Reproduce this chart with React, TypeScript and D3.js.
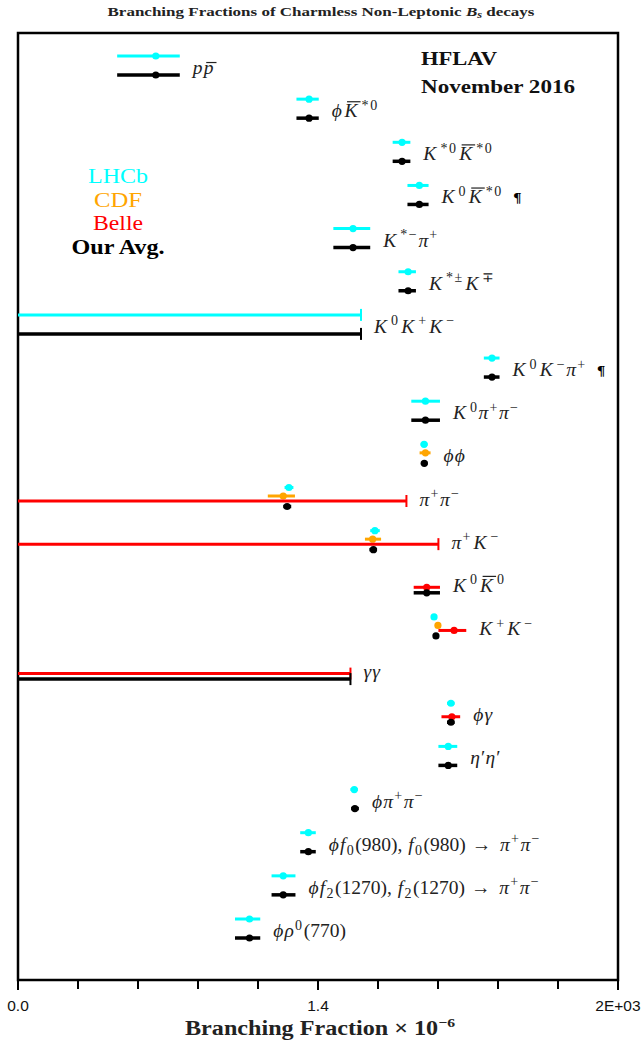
import React, { useLayoutEffect, useRef, useState } from "react";
import * as d3 from "d3";

// ---------- data (branching fractions x 10^-6) ----------
const decays: string[] = [
  "p\\bar{p}",
  "ϕ\\bar{K}^{*0}",
  "K^{*0}\\bar{K}^{*0}",
  "K^0\\bar{K}^{*0}¶",
  "K^{*−}π^+",
  "K^{*±}K^∓",
  "K^0K^+K^−",
  "K^0K^−π^+¶",
  "K^0π^+π^−",
  "ϕϕ",
  "π^+π^−",
  "π^+K^−",
  "K^0\\bar{K}^0",
  "K^+K^−",
  "γγ",
  "ϕγ",
  "η′η′",
  "ϕπ^+π^−",
  "ϕf_0(980), f_0(980) → π^+π^−",
  "ϕf_2(1270), f_2(1270) → π^+π^−",
  "ϕρ^0(770)",
];

type M = [number, number, number] | number | null; // [value, low, high] or upper limit

const lhcb: M[] = [
  [0.028, 0.011, 0.05], [1.14, 0.84, 1.44], [10.8, 8.6, 13.2], [16.4, 12.3, 20.5],
  [3.3, 2.05, 5.0], [12.5, 9.9, 15.1], 4.0, [95, 78, 114], [19, 13.5, 27],
  [18.4, 16.9, 20.0], [0.7, 0.63, 0.78], [5.6, 5.0, 6.3], null, [23.4, 21.8, 25.0],
  null, [35.2, 32.0, 38.5], [33, 26, 41], [3.4, 3.1, 3.7], [1.12, 0.92, 1.34],
  [0.61, 0.46, 0.82], [0.27, 0.19, 0.35],
];
const cdf: M[] = [
  null, null, null, null, null, null, null, null, null,
  [19.0, 16.5, 21.5], [0.61, 0.42, 0.81], [5.3, 4.4, 6.5], null, [25.7, 24.0, 27.5],
  null, null, null, null, null, null, null,
];
const belle: M[] = [
  null, null, null, null, null, null, null, null, null, null,
  12, 26, [19.6, 14.3, 27], [38, 26, 51], 3.1, [36, 28, 44],
  null, null, null, null, null,
];
const average: M[] = [
  [0.028, 0.011, 0.05], [1.14, 0.84, 1.44], [10.8, 8.6, 13.2], [16.4, 12.3, 20.5],
  [3.3, 2.05, 5.0], [12.5, 9.9, 15.1], 4.0, [95, 78, 114], [19, 13.5, 27],
  [18.5, 17.0, 20.0], [0.67, 0.61, 0.74], [5.4, 4.9, 5.9], [19.6, 14.3, 27], [24.5, 23.0, 26.1],
  3.1, [35.2, 32.0, 38.5], [33, 26, 41], [3.45, 3.15, 3.8], [1.12, 0.92, 1.34],
  [0.61, 0.46, 0.82], [0.27, 0.19, 0.35],
];

const experiments = ["LHCb", "CDF", "Belle", "Our Avg."];
const expColors = ["#00ffff", "#ffa500", "#ff0000", "#000000"];
const expData = [lhcb, cdf, belle, average];
const expOffset = [-9.5, -1, 4, 9.5];
const legendWidths = [60, 48, 50, 93];

const xDomain: [number, number] = [0.001, 2000];
const tickCount = 10;
const tickLabels = ["0.0", "1.4", "2E+03"];

// ---------- layout ----------
const W = 642, H = 1044;
const left = 18, right = 618, top = 33, bottom = 980;
const SERIF = "'Liberation Serif', 'Times New Roman', serif";
const SANS = "'Liberation Sans', Arial, sans-serif";
const LABEL_SIZE = 19.5;

type Ch = { c: string; it: boolean; pos: number; bar?: boolean; pil?: boolean };
function parseTex(s: string): Ch[] {
  const out: Ch[] = [];
  const isIt = (c: string) => /[A-Za-z\u0370-\u03FF]/.test(c);
  const push = (t: string, pos: number, bar = false) => {
    for (const c of t) out.push({ c, it: isIt(c), pos, bar });
  };
  let i = 0;
  while (i < s.length) {
    if (s.startsWith("\\bar{", i)) {
      const j = s.indexOf("}", i);
      push(s.slice(i + 5, j), 0, true);
      i = j + 1;
    } else if (s[i] === "^" || s[i] === "_") {
      const pos = s[i] === "^" ? 1 : -1;
      let t: string;
      if (s[i + 1] === "{") {
        const j = s.indexOf("}", i);
        t = s.slice(i + 2, j);
        i = j + 1;
      } else {
        t = s[i + 1];
        i += 2;
      }
      push(t, pos);
    } else if (s[i] === "¶") {
      out.push({ c: "¶", it: false, pos: 0, pil: true });
      i++;
    } else {
      push(s[i], 0);
      i++;
    }
  }
  return out;
}

function spacing(g: Ch): number {
  if (g.pos !== 0) return 1.6;
  if (g.it) return g.c === "K" ? 4 : 1.2;
  if (g.c === "→") return 3;
  if (g.c === " ") return 1;
  return 0;
}

function Tex({ x, y, s, size }: { x: number; y: number; s: string; size: number }) {
  const chars = parseTex(s);
  let cur = 0;
  return (
    <text x={x} y={y} fontFamily={SERIF} fontSize={size} style={{ whiteSpace: "pre" }} fill="#222">
      {chars.map((g, k) => {
        const target = g.pos === 1 ? -size * 0.38 : g.pos === -1 ? size * 0.22 : 0;
        const dy = target - cur;
        cur = target;
        const ls = spacing(g);
        const lower = g.c === g.c.toLowerCase();
        return (
          <tspan
            key={k}
            dy={dy}
            dx={g.pil ? 10 : g.c === "K" && k > 0 ? 1.5 : 0}
            fontStyle={g.it ? "italic" : "normal"}
            fontFamily={g.pil ? "'DejaVu Serif', serif" : undefined}
            fontWeight={g.pil ? "bold" : undefined}
            fill={g.pil ? "#000" : undefined}
            fontSize={g.pos !== 0 ? size * 0.72 : g.pil ? size * 0.7 : size}
            letterSpacing={ls}
            data-bar={g.bar ? "1" : undefined}
            data-ls={ls}
            data-cap={lower ? size * 0.46 : size * 0.662}
          >
            {g.pil ? "\u00B6\uFE0E" : g.c}
          </tspan>
        );
      })}
    </text>
  );
}

export default function App() {
  const svgRef = useRef<SVGSVGElement>(null);
  const [bars, setBars] = useState<{ x1: number; x2: number; y: number }[]>([]);

  const x = d3.scaleLog().domain(xDomain).range([left, right]);
  const y = d3.scalePoint<string>().domain(decays).range([65.5, 928.5]);
  const lx = Math.log10(xDomain[0]);
  const span = Math.log10(xDomain[1]) - lx;
  const ticks = d3.range(tickCount + 1).map((i) => Math.pow(10, lx + (i * span) / tickCount));

  const rowMax = decays.map((_, r) => {
    let m = 0;
    expData.forEach((arr) => {
      const d = arr[r];
      if (d == null) return;
      const hi = typeof d === "number" ? d : d[2];
      m = Math.max(m, hi);
    });
    return m;
  });

  useLayoutEffect(() => {
    const svg = svgRef.current;
    if (!svg) return;
    const out: { x1: number; x2: number; y: number }[] = [];
    svg.querySelectorAll("tspan[data-bar]").forEach((el) => {
      const t = el as unknown as SVGTextContentElement;
      const p = t.getStartPositionOfChar(0);
      const w = t.getComputedTextLength();
      const ls = parseFloat(el.getAttribute("data-ls") || "0");
      const cap = parseFloat(el.getAttribute("data-cap") || "13");
      out.push({ x1: p.x + 2.5, x2: p.x + w - ls + 3, y: p.y - cap - 2.5 });
    });
    setBars(out);
  }, []);

  return (
    <svg ref={svgRef} width={W} height={H} style={{ position: "absolute", left: 0, top: 0, background: "#fff" }}>
      <rect x={0} y={0} width={W} height={H} fill="#fff" />
      {/* title */}
      <text x={321} y={16} textAnchor="middle" fontFamily={SERIF} fontWeight="bold" fontSize={13} fill="#222" textLength={427} lengthAdjust="spacingAndGlyphs">
        Branching Fractions of Charmless Non-Leptonic <tspan fontStyle="italic">B</tspan>
        <tspan fontStyle="italic" fontSize={9.5} dy={2}>s</tspan>
        <tspan dy={-2}> decays</tspan>
      </text>

      {/* frame */}
      <rect x={left} y={top} width={right - left} height={bottom - top} fill="none" stroke="#000" strokeWidth={2.5} />

      {/* ticks */}
      {ticks.map((t, i) => (
        <line key={i} x1={x(t)} x2={x(t)} y1={bottom} y2={bottom + (i % 5 === 0 ? 10 : 9)} stroke="#000" strokeWidth={2} />
      ))}
      {[0, 5, 10].map((i, k) => (
        <text key={i} x={x(ticks[i])} y={1011} textAnchor="middle" fontFamily={SANS} fontSize={15.5} fill="#111">
          {tickLabels[k]}
        </text>
      ))}
      <text x={320} y={1035} textAnchor="middle" fontFamily={SERIF} fontWeight="bold" fontSize={20} fill="#222" textLength={270} lengthAdjust="spacingAndGlyphs">
        Branching Fraction × 10<tspan fontSize={13} dy={-8}>−6</tspan>
      </text>

      {/* HFLAV */}
      <text x={421} y={65} fontFamily={SERIF} fontWeight="bold" fontSize={19} fill="#111" textLength={76} lengthAdjust="spacingAndGlyphs">HFLAV</text>
      <text x={421} y={93} fontFamily={SERIF} fontWeight="bold" fontSize={19} fill="#111" textLength={154} lengthAdjust="spacingAndGlyphs">November 2016</text>

      {/* legend */}
      {experiments.map((e, i) => (
        <text
          key={e}
          x={118}
          y={183 + i * 23.5}
          textAnchor="middle"
          fontFamily={SERIF}
          fontSize={21}
          fontWeight={i === 3 ? "bold" : "normal"}
          fill={expColors[i]}
          textLength={legendWidths[i]}
          lengthAdjust="spacingAndGlyphs"
        >
          {e}
        </text>
      ))}

      {/* measurements */}
      {expData.map((arr, k) =>
        arr.map((d, r) => {
          if (d == null) return null;
          const yy = (y(decays[r]) as number) + expOffset[k];
          const col = expColors[k];
          const sw = k === 3 ? 3.5 : 3;
          if (typeof d === "number") {
            return (
              <g key={`${k}-${r}`}>
                <line x1={x(xDomain[0])} x2={x(d)} y1={yy} y2={yy} stroke={col} strokeWidth={sw} />
                <line x1={x(d)} x2={x(d)} y1={yy - 6} y2={yy + 6} stroke={col} strokeWidth={2} />
              </g>
            );
          }
          return (
            <g key={`${k}-${r}`}>
              <line x1={x(d[1])} x2={x(d[2])} y1={yy} y2={yy} stroke={col} strokeWidth={sw} />
              <circle cx={x(d[0])} cy={yy} r={3.6} fill={col} />
            </g>
          );
        })
      )}

      {/* decay labels */}
      {decays.map((s, r) => (
        <Tex key={s} x={x(rowMax[r]) + 13} y={(y(s) as number) + 8.5} s={s} size={LABEL_SIZE} />
      ))}
      {bars.map((b, i) => (
        <line key={i} x1={b.x1} x2={b.x2} y1={b.y} y2={b.y} stroke="#222" strokeWidth={1.2} />
      ))}
    </svg>
  );
}
